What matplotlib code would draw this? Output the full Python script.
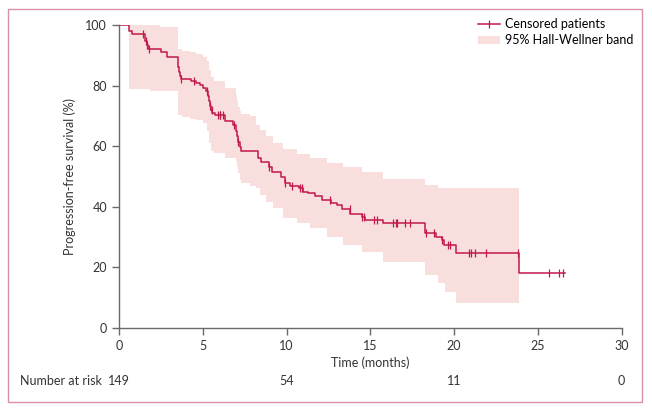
import matplotlib
matplotlib.use("Agg")
import matplotlib.pyplot as plt
from matplotlib.patches import Rectangle, Patch
from matplotlib.lines import Line2D
import numpy as np

plt.rcParams['font.family'] = ['Lato', 'DejaVu Sans']

# Kaplan-Meier steps (time in months, survival %)
event_t = [0, 0.62, 0.75, 1.55, 1.65, 1.75, 2.53, 2.87, 3.5, 3.55,
           3.6, 3.65, 3.7, 4.3, 4.6, 4.85, 5.0, 5.2, 5.3, 5.38,
           5.45, 5.5, 5.58, 5.75, 6.3, 6.8, 7.0, 7.05, 7.1, 7.2,
           7.3, 8.3, 8.5, 8.95, 9.15, 9.65, 9.9, 10.2, 10.75, 11.0,
           11.3, 11.7, 12.1, 12.65, 13.0, 13.3, 13.8, 14.5, 14.7, 15.76,
           18.25, 18.95, 19.3, 19.4, 20.14, 23.9]
surv = [100, 98.0, 97.0, 94.6, 93.3, 92.1, 91.0, 89.3, 87.5, 86.0,
        84.5, 83.2, 82.3, 81.6, 80.9, 80.2, 79.2, 78.1, 76.5, 74.8,
        73.3, 72.0, 70.9, 70.2, 68.3, 66.9, 65.0, 63.3, 61.5, 59.8,
        58.5, 56.0, 54.9, 53.3, 51.6, 49.9, 47.7, 46.9, 46.1, 45.0,
        44.4, 43.6, 42.2, 41.1, 40.6, 39.2, 37.6, 36.5, 35.8, 34.5,
        31.5, 30.0, 29.1, 27.4, 24.6, 18.3]
last_followup = 26.6

censor_t = [1.43, 1.6, 1.7, 1.8, 3.72, 4.5, 5.25, 5.45, 5.55, 5.9,
            6.0, 6.05, 6.2, 6.85, 7.12, 8.95, 9.9, 10.35, 10.8, 10.95,
            12.62, 13.78, 14.5, 14.6, 15.2, 15.4, 16.36, 16.52, 16.6, 17.06,
            17.4, 18.35, 18.8, 19.3, 19.64, 19.74, 20.9, 21.04, 21.24, 21.9,
            23.85, 25.67, 26.27, 26.5]

# 95% Hall-Wellner band (step function)
band_t = [0.6, 1.85, 2.45, 3.52, 3.75, 4.25, 4.6, 5.0, 5.25, 5.4,
          5.5, 5.7, 6.3, 7.0, 7.05, 7.1, 7.2, 7.3, 7.8, 8.2,
          8.4, 8.8, 9.2, 9.8, 10.6, 11.4, 12.4, 13.4, 14.5, 15.76,
          18.25, 19.05, 19.45, 20.14, 23.9]
band_hi = [100, 100, 99.2, 92.0, 91.5, 91.0, 90.3, 89.5, 88.0, 85.0,
           83.0, 81.4, 79.2, 77.0, 75.0, 73.0, 71.5, 70.5, 70.0, 67.0,
           65.5, 63.5, 61.0, 59.0, 57.5, 56.0, 54.5, 53.0, 51.5, 49.2,
           47.2, 46.1, 46.1, 46.1, 46.1]
band_lo = [78.9, 78.3, 78.3, 70.4, 69.8, 69.0, 68.5, 67.5, 65.0, 61.0,
           58.3, 57.8, 56.0, 55.0, 53.0, 51.0, 49.0, 48.0, 47.0, 46.2,
           44.0, 41.5, 39.6, 36.3, 34.5, 33.0, 30.0, 27.5, 25.0, 21.9,
           17.5, 14.7, 12.0, 8.1, 8.1]

risk_t = [0, 10, 20, 30]
risk_n = [149, 54, 11, 0]

line_col = '#c2184b'
band_col = '#f8dedd'
axis_col = '#6a6a6a'
text_col = '#333333'
fs = 9

fig = plt.figure(figsize=(6.52, 4.11), dpi=100)
ax = fig.add_axes([119 / 652, 1 - 328 / 411, 502.5 / 652, 303 / 411])

ax.fill_between(band_t, band_lo, band_hi, step='post', color=band_col, lw=0)

xs = list(event_t) + [last_followup]
ys = list(surv) + [surv[-1]]
ax.step(xs, ys, where='post', color=line_col, lw=1.1, zorder=3)

idx = np.searchsorted(event_t, censor_t, side='right') - 1
cy = np.array(surv)[idx]
ax.plot(censor_t, cy, ls='none', marker='|', ms=6, mew=0.9, color=line_col, zorder=4)

ax.set_xlim(0, 30)
ax.set_ylim(0, 100)
ax.set_xticks([0, 5, 10, 15, 20, 25, 30])
ax.set_yticks([0, 20, 40, 60, 80, 100])
for s in ['top', 'right']:
    ax.spines[s].set_visible(False)
for s in ['left', 'bottom']:
    ax.spines[s].set_color(axis_col)
    ax.spines[s].set_linewidth(1.0)
ax.tick_params(colors=axis_col, labelcolor=text_col, labelsize=fs, length=5, width=1)
ax.set_xlabel('Time (months)', fontsize=fs, color=text_col, labelpad=3)
ax.set_ylabel('Progression-free survival (%)', fontsize=fs, color=text_col, labelpad=7)
ax.patch.set_alpha(0)

# number at risk row
risk_y = 1 - 381 / 411
fig.text(20 / 652, risk_y, 'Number at risk', fontsize=fs, color=text_col, va='center', ha='left')
for t, n in zip(risk_t, risk_n):
    xf = (119 + t * 502.5 / 30) / 652
    fig.text(xf, risk_y, str(n), fontsize=fs, color=text_col, va='center', ha='center')

handles = [Line2D([0], [0], color=line_col, lw=1.1, marker='|', ms=6, mew=0.9),
           Patch(facecolor=band_col, edgecolor='none')]
fig.legend(handles, ['Censored patients', '95% Hall-Wellner band'],
           loc='upper right', bbox_to_anchor=(638 / 652, 1 - 13 / 411),
           frameon=False, fontsize=fs, handlelength=1.8, handletextpad=0.35,
           labelspacing=0.35, borderaxespad=0)

fig.patches.append(Rectangle((8 / 652, 1 - 402 / 411), 634 / 652, 393 / 411,
                             transform=fig.transFigure, fill=False,
                             edgecolor='#d98fab', lw=1.0))

fig.savefig('out.png', dpi=100)
